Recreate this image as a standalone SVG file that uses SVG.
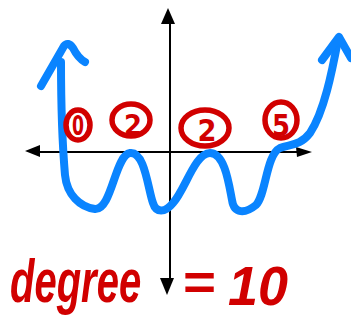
<svg xmlns="http://www.w3.org/2000/svg" width="351" height="322" viewBox="0 0 351 322">
<style>
.axis{stroke:#000;stroke-width:2;fill:none}
.head{fill:#000}
.curve{stroke:#0a84ff;stroke-width:8;fill:none;stroke-linecap:round;stroke-linejoin:round}
.ring{stroke:#d10000;stroke-width:5.5;fill:none}
.num{fill:#d10000;font-family:"DejaVu Sans",sans-serif;font-weight:bold;text-anchor:middle}
.hand{fill:#d10000;font-family:"Liberation Sans",sans-serif;font-weight:bold;font-style:italic}
</style>
<rect width="351" height="322" fill="#fff"/>
<g id="axes">
<line class="axis" x1="36" y1="152" x2="300" y2="152"/>
<line class="axis" x1="170" y1="20" x2="170" y2="282"/>
<polygon class="head" points="25,151 40,145 40,157"/>
<polygon class="head" points="312,152 296,147 297,157"/>
<polygon class="head" points="168,8 161,24 175,24"/>
<polygon class="head" points="167,295 160,278 174,278"/>
</g>
<g id="curve">
<path class="curve" d="M41,86 L64,46 Q68,41 73,48 Q78,58 85,62"/>
<path class="curve" d="M61,62 C61,100 62,140 65,175 C67,195 80,207 95,209 C112,210 115,155 130,153 C145,151 148,190 153,203 C156,213 165,213 173,203 C185,190 195,153 210,153 C225,153 229,185 232,200 C234,214 245,214 256,205 C266,195 266,155 280,148 C290,144 300,146 310,133 C324,112 332,72 338,40"/>
<path class="curve" d="M322,60 L339,37 L351,58"/>
</g>
<g id="root0">
<ellipse class="ring" cx="78" cy="125" rx="12" ry="15"/>
<text class="num" x="78" y="135" font-size="27" textLength="12" lengthAdjust="spacingAndGlyphs">0</text>
</g>
<g id="root1">
<ellipse class="ring" cx="131" cy="120" rx="19" ry="16"/>
<text class="num" x="133" y="135" font-size="28" textLength="18" lengthAdjust="spacingAndGlyphs">2</text>
</g>
<g id="root2">
<ellipse class="ring" cx="205" cy="128" rx="24" ry="18"/>
<text class="num" x="207" y="141" font-size="30" textLength="19" lengthAdjust="spacingAndGlyphs">2</text>
</g>
<g id="root3">
<ellipse class="ring" cx="281" cy="120" rx="16" ry="18"/>
<text class="num" x="281" y="136" font-size="30" textLength="18" lengthAdjust="spacingAndGlyphs">5</text>
</g>
<g id="label">
<text class="hand" transform="translate(10,302) scale(1,1.55)" font-size="40">degree</text>
<text class="hand" x="182" y="300" font-size="50" textLength="33" lengthAdjust="spacingAndGlyphs">=</text>
<text class="hand" x="228" y="305" font-size="56" textLength="60" lengthAdjust="spacingAndGlyphs">10</text>
</g>
</svg>
